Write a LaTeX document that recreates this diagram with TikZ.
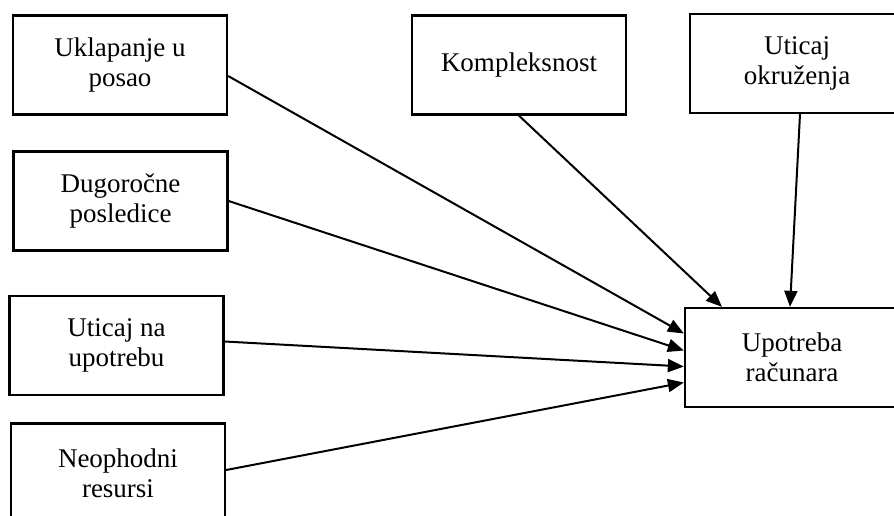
\documentclass[tikz,border=0pt]{standalone}
\usepackage{fontspec}
\setmainfont{Liberation Serif}
\usetikzlibrary{arrows.meta}

\begin{document}
\begin{tikzpicture}[x=1pt,y=-1pt]
\tikzstyle{factor}=[draw,line width=2.3pt,minimum width=214pt,minimum height=99pt,align=center,font=\fontsize{27}{30}\selectfont]
\tikzstyle{link}=[line width=2pt,-{Triangle[length=16pt,width=13pt]}]
\clip (0,0) rectangle (894,515);
\foreach \name/\point/\txt in {
	uk/{120,65}/{Uklapanje u\\posao},
	dug/{120.5,201}/{Dugoročne\\posledice},
	utic/{116.5,345.5}/{Uticaj na\\upotrebu},
	neo/{118,473}/{Neophodni\\resursi},
	kom/{519,65}/{Kompleksnost},
	okr/{797,63.5}/{Uticaj\\okruženja},
	up/{792,357.5}/{Upotreba\\računara}}
	\node[factor] (\name) at (\point) {\txt};
\draw[link] ([yshift=-11pt]uk.east) -- ([yshift=24pt]up.west);
\draw[link] (dug.east) -- ([yshift=7pt]up.west);
\draw[link] ([yshift=4pt]utic.east) -- ([yshift=-9pt]up.west);
\draw[link] ([yshift=3pt]neo.east) -- ([yshift=-25pt]up.west);
\draw[link] (kom.south) -- ([xshift=-70pt]up.north);
\draw[link] ([xshift=3pt]okr.south) -- ([xshift=-2pt]up.north);
\end{tikzpicture}
\end{document}
